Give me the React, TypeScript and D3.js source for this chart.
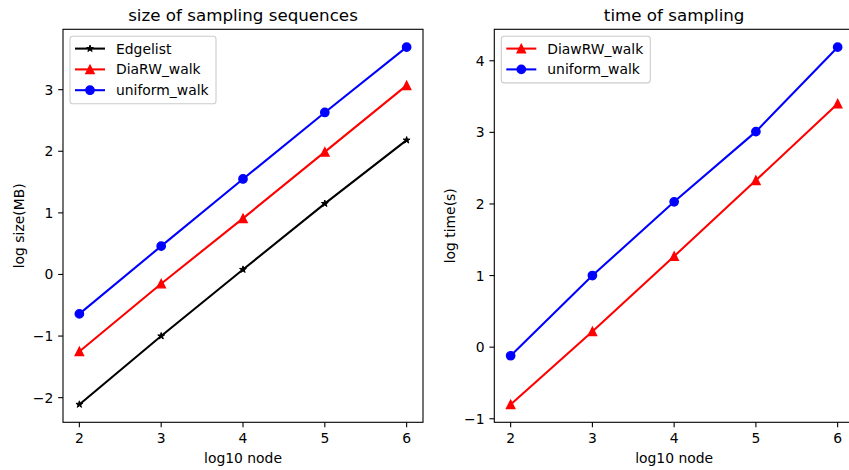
import React, { useRef, useEffect } from "react";
import * as d3 from "d3";

const nodes = [2, 3, 4, 5, 6];

// left panel: log size (MB)
const edgelistSize = [-2.11, -1.0, 0.08, 1.15, 2.18];
const diarwSize = [-1.25, -0.15, 0.91, 1.99, 3.07];
const uniformSize = [-0.64, 0.46, 1.55, 2.63, 3.69];

// right panel: log time (s)
const diawrwTime = [-0.8, 0.22, 1.27, 2.33, 3.4];
const uniformTime = [-0.12, 1.0, 2.03, 3.01, 4.19];

const sizeTicks = [-2, -1, 0, 1, 2, 3];
const timeTicks = [-1, 0, 1, 2, 3, 4];

const W = 849;
const H = 470;
const FONT = "DejaVu Sans, sans-serif";
const MS = 8.33; // marker size px

type Series = { name: string; values: number[]; color: string; marker: string };

const leftSeries: Series[] = [
  { name: "Edgelist", values: edgelistSize, color: "#000000", marker: "star" },
  { name: "DiaRW_walk", values: diarwSize, color: "#ff0000", marker: "tri" },
  { name: "uniform_walk", values: uniformSize, color: "#0000ff", marker: "circle" },
];

const rightSeries: Series[] = [
  { name: "DiawRW_walk", values: diawrwTime, color: "#ff0000", marker: "tri" },
  { name: "uniform_walk", values: uniformTime, color: "#0000ff", marker: "circle" },
];

function markerPath(kind: string) {
  const r = MS / 2;
  if (kind === "tri") return `M0,${-r}L${-r},${r}L${r},${r}Z`;
  if (kind === "star") {
    const rs = 3.6;
    const pts = d3.range(10).map((i) => {
      const a = (i * Math.PI) / 5 - Math.PI / 2;
      const rr = i % 2 === 0 ? rs : rs * 0.381966;
      return [rr * Math.cos(a), rr * Math.sin(a)];
    });
    return "M" + pts.map((p) => p.join(",")).join("L") + "Z";
  }
  return null;
}

function drawMarker(g: any, kind: string, x: number, y: number, color: string) {
  if (kind === "circle") {
    g.append("circle")
      .attr("cx", x)
      .attr("cy", y)
      .attr("r", MS / 2)
      .attr("fill", color)
      .attr("stroke", color)
      .attr("stroke-width", 1.39);
  } else {
    g.append("path")
      .attr("d", markerPath(kind))
      .attr("transform", `translate(${x},${y})`)
      .attr("fill", color)
      .attr("stroke", color)
      .attr("stroke-width", kind === "star" ? 1 : 1.39)
      .attr("stroke-linejoin", "miter");
  }
}

function padded(vals: number[]): [number, number] {
  const lo = d3.min(vals) as number;
  const hi = d3.max(vals) as number;
  const m = (hi - lo) * 0.05;
  return [lo - m, hi + m];
}

const fmt = (v: number) => (v < 0 ? "\u2212" + Math.abs(v) : String(v));

function drawPanel(
  svg: any,
  box: { left: number; right: number; top: number; bottom: number },
  series: Series[],
  yTicks: number[],
  title: string,
  yLabel: string,
  legendWidth: number
) {
  const x = d3.scaleLinear().domain([1.8, 6.2]).range([box.left, box.right]);
  const allVals = series.flatMap((s) => s.values);
  const y = d3.scaleLinear().domain(padded(allVals)).range([box.bottom, box.top]);

  const g = svg.append("g");

  // lines + markers
  const line = d3
    .line<number>()
    .x((_, i) => x(nodes[i]))
    .y((d) => y(d));

  series.forEach((s) => {
    g.append("path")
      .datum(s.values)
      .attr("fill", "none")
      .attr("stroke", s.color)
      .attr("stroke-width", 2.08)
      .attr("d", line);
    s.values.forEach((v, i) => drawMarker(g, s.marker, x(nodes[i]), y(v), s.color));
  });

  // frame
  g.append("rect")
    .attr("x", box.left)
    .attr("y", box.top)
    .attr("width", box.right - box.left)
    .attr("height", box.bottom - box.top)
    .attr("fill", "none")
    .attr("stroke", "#000")
    .attr("stroke-width", 1.1);

  // x ticks
  nodes.forEach((t) => {
    g.append("line")
      .attr("x1", x(t))
      .attr("x2", x(t))
      .attr("y1", box.bottom)
      .attr("y2", box.bottom + 4.86)
      .attr("stroke", "#000")
      .attr("stroke-width", 1.1);
    g.append("text")
      .attr("x", x(t))
      .attr("y", box.bottom + 20.5)
      .attr("text-anchor", "middle")
      .attr("font-family", FONT)
      .attr("font-size", 13.9)
      .text(fmt(t));
  });

  // y ticks
  yTicks.forEach((t) => {
    g.append("line")
      .attr("x1", box.left - 4.86)
      .attr("x2", box.left)
      .attr("y1", y(t))
      .attr("y2", y(t))
      .attr("stroke", "#000")
      .attr("stroke-width", 1.1);
    g.append("text")
      .attr("x", box.left - 9.7)
      .attr("y", y(t) + 5)
      .attr("text-anchor", "end")
      .attr("font-family", FONT)
      .attr("font-size", 13.9)
      .text(fmt(t));
  });

  // title
  g.append("text")
    .attr("x", (box.left + box.right) / 2)
    .attr("y", box.top - 8)
    .attr("text-anchor", "middle")
    .attr("font-family", FONT)
    .attr("font-size", 16.7)
    .text(title);

  // x label
  g.append("text")
    .attr("x", (box.left + box.right) / 2)
    .attr("y", 463)
    .attr("text-anchor", "middle")
    .attr("font-family", FONT)
    .attr("font-size", 13.9)
    .text("log10 node");

  // y label
  g.append("text")
    .attr("transform", `translate(${box.left - 39},${(box.top + box.bottom) / 2}) rotate(-90)`)
    .attr("text-anchor", "middle")
    .attr("font-family", FONT)
    .attr("font-size", 13.9)
    .text(yLabel);

  // legend
  const lx = box.left + 7;
  const ly = box.top + 7;
  const rowH = 20.8;
  const lg = g.append("g");
  lg.append("rect")
    .attr("x", lx)
    .attr("y", ly)
    .attr("width", legendWidth)
    .attr("height", series.length * rowH + 5)
    .attr("rx", 2.8)
    .attr("fill", "#fff")
    .attr("fill-opacity", 0.8)
    .attr("stroke", "#cccccc")
    .attr("stroke-width", 1.1);
  series.forEach((s, i) => {
    const cy = ly + 12.3 + i * rowH;
    lg.append("line")
      .attr("x1", lx + 5)
      .attr("x2", lx + 35)
      .attr("y1", cy)
      .attr("y2", cy)
      .attr("stroke", s.color)
      .attr("stroke-width", 2.08);
    drawMarker(lg, s.marker, lx + 20, cy, s.color);
    lg.append("text")
      .attr("x", lx + 46)
      .attr("y", cy + 5)
      .attr("font-family", FONT)
      .attr("font-size", 13.9)
      .text(s.name);
  });
}

export default function App() {
  const svgRef = useRef<SVGSVGElement>(null);

  useEffect(() => {
    if (!svgRef.current) return;
    const svg = d3.select(svgRef.current);
    svg.selectAll("*").remove();

    drawPanel(
      svg,
      { left: 63, right: 423, top: 29.3, bottom: 422.3 },
      leftSeries,
      sizeTicks,
      "size of sampling sequences",
      "log size(MB)",
      146
    );
    drawPanel(
      svg,
      { left: 494.3, right: 854, top: 29.3, bottom: 422.3 },
      rightSeries,
      timeTicks,
      "time of sampling",
      "log time(s)",
      149
    );
  }, []);

  return (
    <div style={{ position: "absolute", left: 0, top: 0 }}>
      <svg ref={svgRef} width={W} height={H} style={{ display: "block", background: "#fff" }} />
    </div>
  );
}
